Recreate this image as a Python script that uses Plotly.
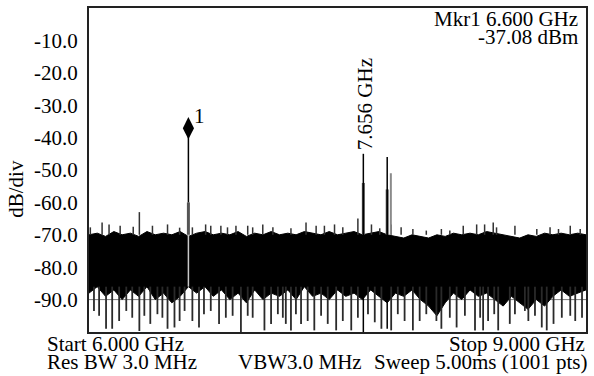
import plotly.graph_objects as go

# ---- data ----
env_freq = [6.00, 6.05, 6.10, 6.15, 6.20, 6.25, 6.30, 6.35, 6.40, 6.45,
            6.50, 6.55, 6.60, 6.65, 6.70, 6.75, 6.80, 6.85, 6.90, 6.95,
            7.00, 7.05, 7.10, 7.15, 7.20, 7.25, 7.30, 7.35, 7.40, 7.45,
            7.50, 7.55, 7.60, 7.65, 7.70, 7.75, 7.80, 7.85, 7.90, 7.95,
            8.00, 8.05, 8.10, 8.15, 8.20, 8.25, 8.30, 8.35, 8.40, 8.45,
            8.50, 8.55, 8.60, 8.65, 8.70, 8.75, 8.80, 8.85, 8.90, 8.95,
            9.00]
noise_top = [-70, -69.5, -70.5, -69, -70, -69.5, -70.5, -69, -70, -69.5,
             -70, -69, -70.5, -69.5, -69, -70, -69.5, -70, -69, -70.5,
             -69.5, -70, -69, -70, -69.5, -70, -69, -69.5, -70, -69,
             -70, -69.5, -69, -70, -69.5, -69, -70, -70.5, -71, -70,
             -70.5, -71, -70, -70.5, -69.5, -70, -69.5, -70, -69, -69.5,
             -70, -70.5, -71, -70, -70.5, -69.5, -70, -69.5, -70, -69.5,
             -70]
noise_bottom = [-88, -86, -89, -87, -90, -87, -89, -86, -90, -88,
                -91, -89, -86, -88, -86, -89, -87, -90, -88, -91,
                -87, -90, -88, -89, -87, -90, -86, -89, -88, -90,
                -87, -89, -88, -90, -87, -89, -91, -88, -89, -87,
                -90, -92, -95, -91, -88, -90, -87, -89, -88, -90,
                -92, -89, -91, -93, -90, -92, -89, -87, -89, -88,
                -87]

dip_freq = [6.030, 6.061, 6.103, 6.140, 6.182, 6.225, 6.261, 6.304, 6.334, 6.370, 6.413, 6.443, 6.474, 6.516, 6.547, 6.577,
            6.624, 6.664, 6.694, 6.735, 6.785, 6.826, 6.867, 6.917, 6.958, 6.988, 7.059, 7.099, 7.140, 7.170,
            7.188, 7.219, 7.249, 7.280, 7.320, 7.360, 7.401, 7.441, 7.492, 7.532, 7.583, 7.623, 7.684, 7.725, 7.765,
            7.824, 7.864, 7.905, 7.955, 7.996, 8.036, 8.097, 8.127, 8.178, 8.219, 8.269, 8.330, 8.361,
            8.379, 8.409, 8.446, 8.470, 8.540, 8.571, 8.631, 8.652, 8.692, 8.733, 8.763, 8.804, 8.854, 8.905, 8.935, 8.976]
dip_level = [-93.5, -95, -99, -99, -96.6, -93.5, -95.6, -99.7, -95, -97.5, -94.5, -95.6, -99, -98.6, -96.6, -93.5,
             -96.6, -98.6, -94.5, -93.5, -97.5, -95.6, -95, -100, -95, -95.6, -99.5, -97.5, -94.5, -95.6,
             -97.5, -99.5, -94.5, -97.5, -96.6, -99.5, -95, -97.5, -99.5, -96.6, -99.5, -95.6, -94.5, -97, -99,
             -99.5, -94.5, -96.6, -99.5, -96.6, -94.5, -96.6, -99, -95.6, -98.6, -95, -99.5, -95.6,
             -99.5, -96.6, -94.5, -99.5, -97.5, -94.5, -93.5, -96.6, -95, -98.6, -99.5, -97.5, -95.6, -95, -96.6, -95.6]

rise_freq = [6.008, 6.079, 6.121, 6.188, 6.267, 6.304, 6.383, 6.474, 6.547,
             6.624, 6.704, 6.735, 6.796, 6.836, 6.887, 6.958, 6.988, 7.049, 7.110,
             7.219, 7.310, 7.371, 7.421, 7.482, 7.532, 7.623, 7.705, 7.755,
             7.824, 7.884, 7.955, 8.036, 8.127, 8.178, 8.259, 8.340,
             8.388, 8.440, 8.460, 8.571, 8.703, 8.783, 8.834, 8.905, 8.965]
rise_level = [-67.7, -66.2, -66.8, -67.2, -67.5, -63, -67.2, -66.8, -67.8,
              -67.7, -66.8, -67.2, -67.2, -67.7, -67.2, -67.2, -67.7, -66.8, -67.7,
              -68, -66.2, -67.2, -67.2, -66.8, -67.7, -65, -66.8, -68,
              -66.8, -67.7, -68.2, -68.7, -68.2, -68.7, -67.2, -66.8,
              -66.8, -66.2, -67.7, -67.2, -68.2, -67.7, -68.2, -67.2, -68.2]

sig_freq = [6.600, 7.656, 7.800]
sig_peak = [-37.08, -45.0, -46.0]
sig_floor = [-86, -100, -99]
sig_skirt = [-60, -54, -56]
spur_freq = [7.822]
spur_level = [-51]

ytick_vals = [-10, -20, -30, -40, -50, -60, -70, -80, -90]
ytick_text = ["-10.0", "-20.0", "-30.0", "-40.0", "-50.0", "-60.0", "-70.0", "-80.0", "-90.0"]

FONT = "Liberation Serif, Times New Roman, serif"
FS = 21


def segs(xs, y0s, y1s):
    X, Y = [], []
    for x, a, b in zip(xs, y0s, y1s):
        X += [x, x, None]
        Y += [a, b, None]
    return X, Y


fig = go.Figure()

# noise band
fig.add_trace(go.Scatter(x=env_freq, y=noise_bottom, mode="lines",
                         line=dict(color="black", width=1), hoverinfo="skip"))
fig.add_trace(go.Scatter(x=env_freq, y=noise_top, mode="lines", fill="tonexty",
                         fillcolor="black", line=dict(color="black", width=1), hoverinfo="skip"))

# downward spikes
X, Y = segs(dip_freq, [-86] * len(dip_freq), dip_level)
fig.add_trace(go.Scatter(x=X, y=Y, mode="lines", line=dict(color="#2a2a2a", width=1.8),
                         hoverinfo="skip"))
# upward spikes
X, Y = segs(rise_freq, [-70] * len(rise_freq), rise_level)
fig.add_trace(go.Scatter(x=X, y=Y, mode="lines", line=dict(color="#333333", width=1.5),
                         hoverinfo="skip"))

# light line through band at marker signal
fig.add_trace(go.Scatter(x=[sig_freq[0], sig_freq[0]], y=[-70, -86], mode="lines",
                         line=dict(color="#c8c8c8", width=1.5), hoverinfo="skip"))

# signal skirts (thicker part)
X, Y = segs(sig_freq, [-70] * len(sig_freq), sig_skirt)
fig.add_trace(go.Scatter(x=X, y=Y, mode="lines", line=dict(color="#555555", width=3),
                         hoverinfo="skip"))
# spur
X, Y = segs(spur_freq, [-70], spur_level)
fig.add_trace(go.Scatter(x=X, y=Y, mode="lines", line=dict(color="#8a8a8a", width=2),
                         hoverinfo="skip"))
# signal lines
X, Y = segs(sig_freq[1:], sig_floor[1:], sig_peak[1:])
fig.add_trace(go.Scatter(x=X, y=Y, mode="lines", line=dict(color="black", width=1.5),
                         hoverinfo="skip"))
fig.add_trace(go.Scatter(x=[sig_freq[0], sig_freq[0]], y=[-60, sig_peak[0]], mode="lines",
                         line=dict(color="black", width=1.5), hoverinfo="skip"))

# marker diamond
fig.add_trace(go.Scatter(x=[sig_freq[0]], y=[sig_peak[0]], mode="markers",
                         marker=dict(symbol="diamond-tall", size=16, color="black"),
                         hoverinfo="skip"))

# -90 grid line
fig.add_shape(type="line", xref="paper", x0=0, x1=1, yref="y", y0=-90, y1=-90,
              line=dict(color="#7a7a7a", width=1), layer="below")

W, H = 594, 376
L, R, T, B = 89, 6, 7, 44
pw, ph = W - L - R, H - T - B


def px(x):
    return (x - L) / pw


def py(y):
    return (H - B - y) / ph


def txt(x, y, s, xa, angle=0):
    return dict(x=px(x), y=py(y), xref="paper", yref="paper", text=s, textangle=angle,
                xanchor=xa, yanchor="middle", showarrow=False, font=dict(size=FS))


ann = [
    txt(16, 188, "dB/div", "center", -90),
    txt(582, 18, "Mkr1 6.600 GHz", "right"),
    txt(582, 36, "-37.08 dBm", "right"),
    txt(45, 344, "Start 6.000 GHz", "left"),
    txt(45, 362, "Res BW 3.0 MHz", "left"),
    txt(589, 344, "Stop 9.000 GHz", "right"),
    txt(237, 362, "VBW3.0 MHz", "left"),
    txt(592, 362, "Sweep 5.00ms (1001 pts)", "right"),
    dict(x=sig_freq[1], y=sig_peak[1], xref="x", yref="y", text="7.656 GHz",
         textangle=-90, xanchor="center", yanchor="bottom", yshift=2, xshift=1,
         showarrow=False, font=dict(size=FS)),
    dict(x=sig_freq[0], y=sig_peak[0], xref="x", yref="y", text="1",
         xanchor="left", yanchor="middle", xshift=4, yshift=12, showarrow=False,
         font=dict(size=FS)),
]

fig.update_layout(
    width=W, height=H,
    margin=dict(l=L, r=R, t=T, b=B, pad=0),
    paper_bgcolor="white", plot_bgcolor="white",
    showlegend=False,
    font=dict(family=FONT, color="black", size=FS),
    annotations=ann,
    xaxis=dict(range=[6.0, 9.0], showgrid=False, zeroline=False, showticklabels=False,
               ticks="", showline=True, mirror=True, linecolor="#222222", linewidth=2),
    yaxis=dict(range=[-100, 0], showgrid=False, zeroline=False, tickvals=ytick_vals,
               ticktext=ytick_text, ticks="", ticklabelstandoff=5,
               tickfont=dict(size=FS, family=FONT, color="black"),
               showline=True, mirror=True, linecolor="#222222", linewidth=2),
)

fig.write_html("out.html", config={"displayModeBar": False},
               post_script="document.body.style.margin='0px';")
